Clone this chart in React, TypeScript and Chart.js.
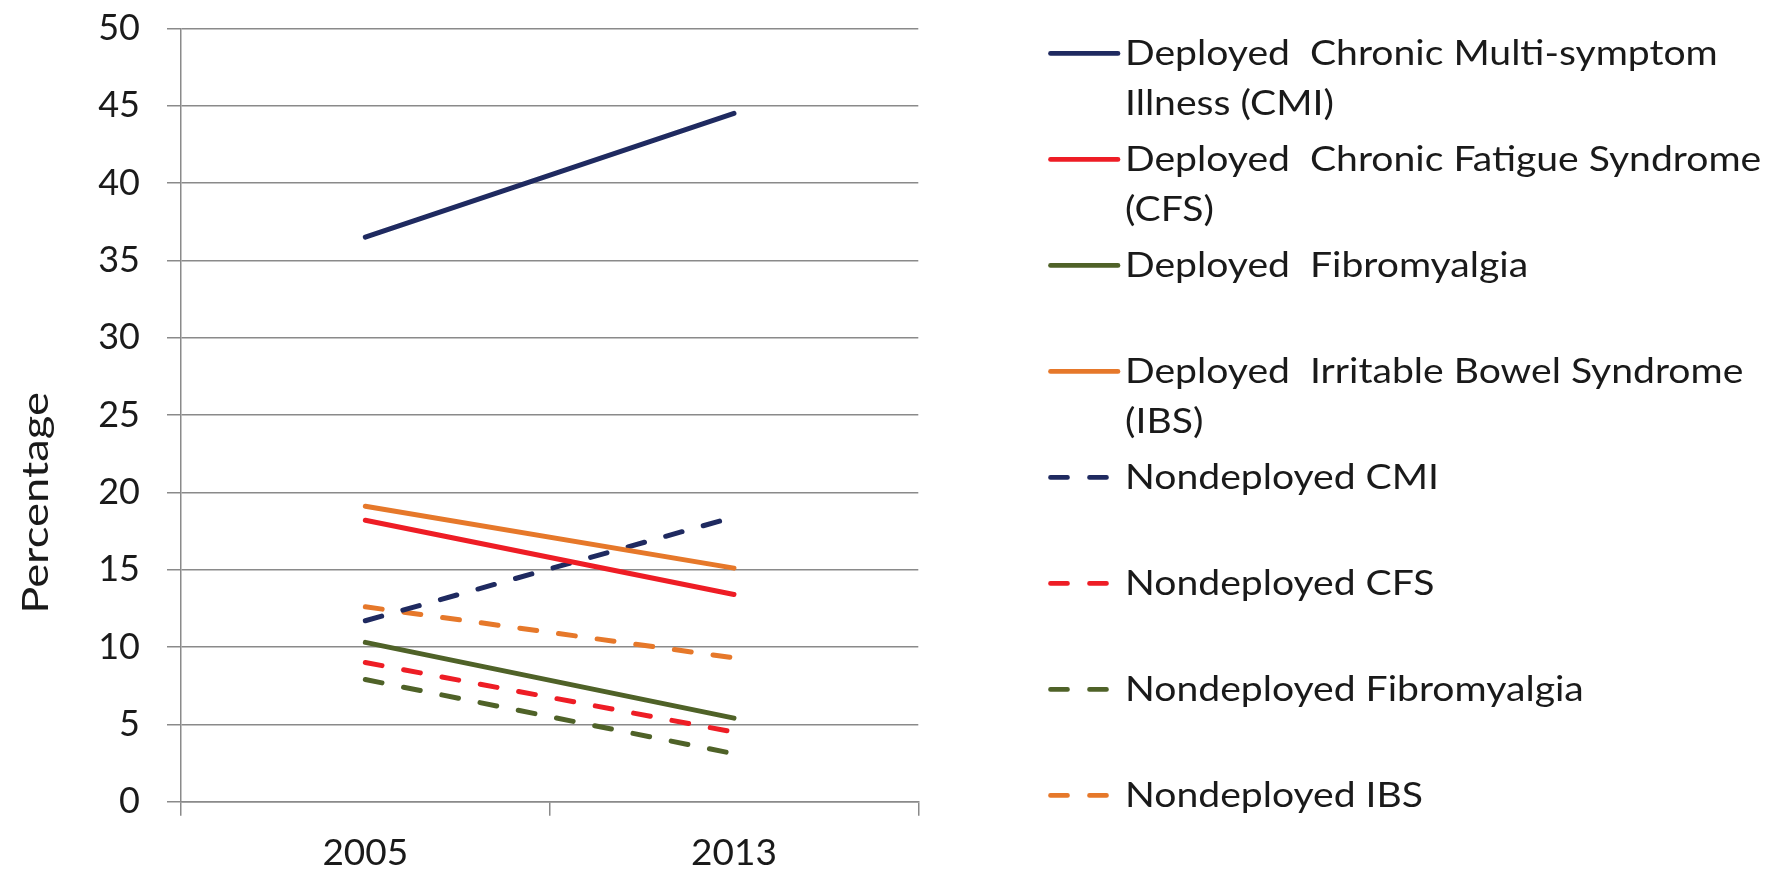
import React, { useEffect, useRef } from 'react';
import { Chart, registerables } from 'chart.js';

Chart.register(...registerables);

// ---- data ----
const years = ['2005', '2013'];
const deployedCMI = [36.5, 44.5];
const deployedCFS = [18.2, 13.4];
const deployedFibro = [10.3, 5.4];
const deployedIBS = [19.1, 15.1];
const nondeployedCMI = [11.7, 18.4];
const nondeployedCFS = [9.0, 4.5];
const nondeployedFibro = [7.9, 3.1];
const nondeployedIBS = [12.6, 9.3];

const legendLines = [
  ['Deployed  Chronic Multi-symptom', 'Illness (CMI)'],
  ['Deployed  Chronic Fatigue Syndrome', '(CFS)'],
  ['Deployed  Fibromyalgia'],
  ['Deployed  Irritable Bowel Syndrome', '(IBS)'],
  ['Nondeployed CMI'],
  ['Nondeployed CFS'],
  ['Nondeployed Fibromyalgia'],
  ['Nondeployed IBS'],
];
const yAxisTitle = 'Percentage';
const yMin = 0;
const yMax = 50;
const yStep = 5;

// ---- styles ----
const NAVY = '#1F2A60';
const RED = '#EE1D25';
const GREEN = '#4F6228';
const ORANGE = '#E6782A';
const DASH = [17, 22];
const TEXT = '#1a1a1a';
const GRID = '#8a8a8a';
const FONT = 'Lato';

const sideLegend = {
  id: 'sideLegend',
  afterDraw(chart: any) {
    const ctx = chart.ctx;
    ctx.save();
    // y-axis title
    ctx.fillStyle = TEXT;
    ctx.font = `36px ${FONT}`;
    ctx.textAlign = 'center';
    ctx.textBaseline = 'middle';
    ctx.save();
    ctx.translate(36, 503);
    ctx.rotate(-Math.PI / 2);
    ctx.scale(1.26, 1);
    ctx.fillText(yAxisTitle, 0, 0);
    ctx.restore();

    // legend
    ctx.textAlign = 'left';
    ctx.textBaseline = 'alphabetic';
    ctx.font = `34px ${FONT}`;
    chart.data.datasets.forEach((ds: any, i: number) => {
      const y = 53.4 + i * 106;
      ctx.beginPath();
      ctx.strokeStyle = ds.borderColor;
      ctx.lineWidth = 4.7;
      ctx.lineCap = 'round';
      ctx.setLineDash(ds.borderDash || []);
      ctx.moveTo(1050.5, y);
      ctx.lineTo(ds.borderDash ? 1109 : 1118, y);
      ctx.stroke();
      ctx.setLineDash([]);
      ctx.fillStyle = TEXT;
      (ds.legendLines as string[]).forEach((t, j) => {
        ctx.save();
        ctx.translate(1125, y + 12 + j * 50);
        ctx.scale(1.15, 1);
        ctx.fillText(t, 0, 0);
        ctx.restore();
      });
    });
    ctx.restore();
  },
};

function mk(label: string[], data: number[], color: string, dashed: boolean) {
  return {
    label: label.join(' '),
    legendLines: label,
    data,
    borderColor: color,
    backgroundColor: color,
    borderWidth: 5,
    borderCapStyle: 'round',
    borderDash: dashed ? DASH : undefined,
    pointRadius: 0,
    pointHoverRadius: 0,
    fill: false,
    tension: 0,
  };
}

export default function App() {
  const ref = useRef<HTMLCanvasElement | null>(null);
  useEffect(() => {
    document.body.style.margin = '0';
    const canvas = ref.current!;
    const chart = new Chart(canvas, {
      type: 'line',
      data: {
        labels: years,
        datasets: [
          mk(legendLines[0], deployedCMI, NAVY, false),
          mk(legendLines[1], deployedCFS, RED, false),
          mk(legendLines[2], deployedFibro, GREEN, false),
          mk(legendLines[3], deployedIBS, ORANGE, false),
          mk(legendLines[4], nondeployedCMI, NAVY, true),
          mk(legendLines[5], nondeployedCFS, RED, true),
          mk(legendLines[6], nondeployedFibro, GREEN, true),
          mk(legendLines[7], nondeployedIBS, ORANGE, true),
        ] as any,
      },
      options: {
        animation: false,
        responsive: false,
        maintainAspectRatio: false,
        layout: { padding: { top: 28.3, right: 863.7, bottom: 0, left: 0 } },
        plugins: {
          legend: { display: false },
          tooltip: { enabled: false },
          title: { display: false },
        },
        scales: {
          x: {
            offset: true,
            grid: {
              offset: true,
              drawOnChartArea: false,
              drawTicks: true,
              tickLength: 14,
              color: GRID,
              lineWidth: 1.5,
            },
            border: { display: true, color: GRID, width: 1.5 },
            ticks: {
              color: TEXT,
              font: { family: FONT, size: 37 },
              padding: 15,
              maxRotation: 0,
            },
            afterFit: (s: any) => {
              s.height = 874 - 801.7;
            },
          },
          y: {
            min: yMin,
            max: yMax,
            ticks: {
              stepSize: yStep,
              color: TEXT,
              font: { family: FONT, size: 36 },
              padding: 27,
            },
            grid: {
              color: GRID,
              lineWidth: 1.5,
              drawTicks: true,
              tickLength: 14,
            },
            border: { display: true, color: GRID, width: 1.5 },
            afterFit: (s: any) => {
              s.width = 181;
              s.paddingTop = 10;
              s.paddingBottom = 10;
            },
          },
        },
      },
      plugins: [sideLegend],
    });
    return () => chart.destroy();
  }, []);
  return (
    <div style={{ width: 1782, height: 874, background: '#fff' }}>
      <canvas ref={ref} width={1782} height={874} style={{ display: 'block', width: 1782, height: 874 }} />
    </div>
  );
}
